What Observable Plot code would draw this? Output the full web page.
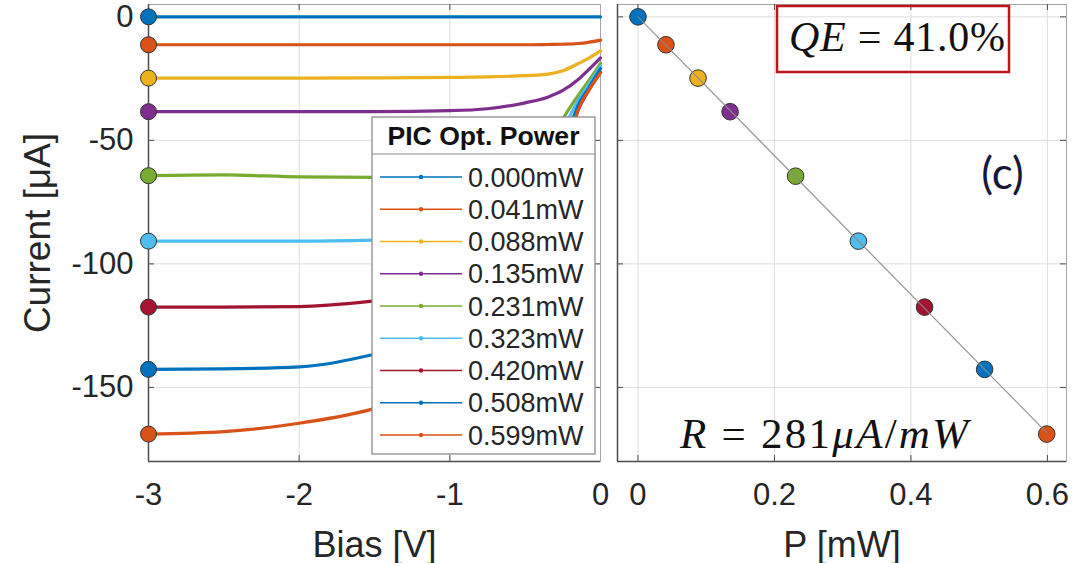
<!DOCTYPE html>
<html>
<head>
<meta charset="utf-8">
<script src="https://cdn.jsdelivr.net/npm/d3@7"></script>
<script src="https://cdn.jsdelivr.net/npm/@observablehq/plot@0.6"></script>
<style>
  html, body { margin: 0; padding: 0; background: #fff; }
  #chart { position: relative; width: 1078px; height: 563px; display: flex; background: #fff; }
  #chart svg { overflow: visible; }
</style>
</head>
<body>
<div id="chart"></div>
<script>
// ---------------- data ----------------
const powerLabels = ["0.000mW","0.041mW","0.088mW","0.135mW","0.231mW","0.323mW","0.420mW","0.508mW","0.599mW"];
const powerMW     = [0, 0.041, 0.088, 0.135, 0.231, 0.323, 0.420, 0.508, 0.599];
const seriesColors = ["#0072BD","#D95319","#EDB120","#7E2F8E","#77AC30","#4DBEEE","#A2142F","#0072BD","#D95319"];

// bias grid (V) and photocurrent curves (µA)
const biasV = [-3, -2.5, -2, -1.5, -1, -0.75, -0.5, -0.35, -0.25, -0.15, -0.08, 0];
const i000 = [0, 0, 0, 0, 0, 0, 0, 0, 0, 0, 0, 0];
const i041 = [-11.3, -11.3, -11.3, -11.3, -11.3, -11.3, -11.3, -11.2, -11.1, -10.8, -10.3, -9.4];
const i088 = [-24.8, -24.8, -24.8, -24.7, -24.5, -24.3, -23.8, -23.2, -21.8, -19.0, -16.8, -13.8];
const i135 = [-38.4, -38.4, -38.4, -38.4, -38.0, -37.2, -34.8, -32.5, -29.8, -25.5, -21.5, -16.6];
const i231 = [-64.3, -64.0, -64.8, -65.0, -64.6, -64.0, -61.5, -55.0, -41.5, -32.0, -26.0, -18.8];
const i323 = [-90.8, -90.8, -90.8, -90.4, -89.5, -88.0, -84.0, -70.0, -47.0, -34.0, -27.5, -20.0];
const i420 = [-117.5, -117.5, -117.3, -115.0, -111.0, -107.0, -100.0, -85.0, -60.0, -38.0, -30.0, -22.5];
const i508 = [-142.7, -142.5, -141.7, -136.6, -128.0, -121.0, -110.0, -88.0, -56.0, -36.0, -29.0, -21.0];
const i599 = [-168.9, -167.9, -164.5, -158.5, -146.0, -137.0, -122.0, -98.0, -66.0, -38.0, -30.0, -22.7];
const currentSeries = [i000, i041, i088, i135, i231, i323, i420, i508, i599];

// right panel: current at -3 V vs optical power, and linear fit (R = 281 µA/mW)
const pointCurrent = [0, -11.3, -24.8, -38.4, -64.5, -90.8, -117.5, -142.7, -168.9];
const fitP = [0, 0.599];
const fitI = [0, -168.3];

const xTicksLeft = [-3, -2, -1, 0];
const yTicks = [-150, -100, -50, 0];
const xTicksRight = [0, 0.2, 0.4, 0.6];
const xTickLabelsRight = ["0", "0.2", "0.4", "0.6"];

// ---------------- tables ----------------
const ivRows = [];
currentSeries.forEach((arr, s) => arr.forEach((v, k) => ivRows.push({
  v: biasV[k], i: v, s, color: seriesColors[s]
})));
const startRows = currentSeries.map((arr, s) => ({v: biasV[0], i: arr[0], color: seriesColors[s]}));
const pointRows = powerMW.map((p, s) => ({p, i: pointCurrent[s], color: seriesColors[s]}));
const fitRows = fitP.map((p, k) => ({p, i: fitI[k]}));

const SANS = "'Liberation Sans', Arial, Helvetica, sans-serif";
const SERIF = "'Liberation Serif', 'Times New Roman', serif";
const TXT = "#262626";
const GRID = "#dedede";
const FRAME = "#a6a6a6";
const AXIS = "#4d4d4d";

const H = 563, MT = 4, MB = 102;
const frameH = H - MT - MB;

// ---------------- left panel ----------------
const leftW = 605, lML = 148, lMR = 5;
const leftFrameW = leftW - lML - lMR;
const left = Plot.plot({
  width: leftW, height: H,
  marginLeft: lML, marginRight: lMR, marginTop: MT, marginBottom: MB,
  x: {domain: [-3, 0]},
  y: {domain: [-180, 5]},
  style: {fontFamily: SANS, fontSize: "31px", color: TXT, background: "transparent", overflow: "visible"},
  marks: [
    Plot.gridX([-2, -1], {stroke: GRID, strokeOpacity: 1}),
    Plot.gridY([-150, -100, -50], {stroke: GRID, strokeOpacity: 1}),
    Plot.frame({stroke: FRAME}),
    Plot.tickX([-2, -1], {x: d => d, insetTop: frameH - 6, stroke: AXIS}),
    Plot.tickX([-2, -1], {x: d => d, insetBottom: frameH - 6, stroke: AXIS}),
    Plot.tickY([-150, -100, -50], {y: d => d, insetRight: leftFrameW - 6, stroke: AXIS}),
    Plot.tickY([-150, -100, -50], {y: d => d, insetLeft: leftFrameW - 6, stroke: AXIS}),
    Plot.ruleX([-3], {stroke: AXIS, strokeWidth: 1.5}),
    Plot.ruleY([-180], {stroke: AXIS, strokeWidth: 1.5}),
    Plot.line(ivRows, {x: "v", y: "i", z: "s", stroke: "color", strokeWidth: 3.2, curve: "monotone-x"}),
    Plot.dot(startRows, {x: "v", y: "i", fill: "color", r: 8, stroke: "#333", strokeWidth: 1}),
    Plot.axisX(xTicksLeft, {tickSize: 0, tickPadding: 21, tickFormat: d => String(d), label: null, fill: TXT}),
    Plot.axisY(yTicks, {tickSize: 0, tickPadding: 15, tickFormat: d => String(d), label: null, fill: TXT}),
    Plot.text(["Bias [V]"], {frameAnchor: "bottom", dy: 84, fontSize: 36, lineAnchor: "middle", fill: TXT}),
    Plot.text(["Current [\u03BCA]"], {frameAnchor: "left", dx: -110, rotate: -90, fontSize: 37, lineAnchor: "middle", textAnchor: "middle", fill: TXT})
  ]
});

// ---------------- right panel ----------------
const rightW = 473, rML = 12, rMR = 12;
const rightFrameW = rightW - rML - rMR;
const right = Plot.plot({
  width: rightW, height: H,
  marginLeft: rML, marginRight: rMR, marginTop: MT, marginBottom: MB,
  x: {domain: [-0.03, 0.628]},
  y: {domain: [-180, 5], axis: null},
  style: {fontFamily: SANS, fontSize: "31px", color: TXT, background: "transparent", overflow: "visible"},
  marks: [
    Plot.gridX(xTicksRight, {stroke: GRID, strokeOpacity: 1}),
    Plot.gridY(yTicks, {stroke: GRID, strokeOpacity: 1}),
    Plot.frame({stroke: FRAME}),
    Plot.tickX(xTicksRight, {x: d => d, insetTop: frameH - 6, stroke: AXIS}),
    Plot.tickX(xTicksRight, {x: d => d, insetBottom: frameH - 6, stroke: AXIS}),
    Plot.tickY(yTicks, {y: d => d, insetRight: rightFrameW - 6, stroke: AXIS}),
    Plot.tickY(yTicks, {y: d => d, insetLeft: rightFrameW - 6, stroke: AXIS}),
    Plot.ruleX([-0.03], {stroke: AXIS, strokeWidth: 1.5}),
    Plot.ruleY([-180], {stroke: AXIS, strokeWidth: 1.5}),
    Plot.dot(pointRows, {x: "p", y: "i", fill: "color", r: 8.3, stroke: "#333", strokeWidth: 1}),
    Plot.line(fitRows, {x: "p", y: "i", stroke: "#8a8a8a", strokeWidth: 1.3, strokeOpacity: 0.85}),
    Plot.axisX(xTicksRight, {tickSize: 0, tickPadding: 21, tickFormat: (d, k) => xTickLabelsRight[k], label: null, fill: TXT}),
    Plot.text(["P [mW]"], {frameAnchor: "bottom", dy: 84, fontSize: 36, lineAnchor: "middle", fill: TXT}),
    Plot.text(["(c)"], {frameAnchor: "top-right", dx: -64, dy: 170, fontSize: 44, textAnchor: "middle", fontFamily: "Lato, 'Open Sans', sans-serif", lineAnchor: "middle", fill: "#15183a"})
  ]
});

const chart = document.getElementById("chart");
chart.appendChild(left);
chart.appendChild(right);

// ---------------- legend (left panel) ----------------
const ls = d3.select(left);
const lg = ls.append("g").attr("font-family", SANS).attr("text-anchor", "start");
const LX = 372, LY = 117, LW = 223, LH = 337;
lg.append("rect").attr("x", LX).attr("y", LY).attr("width", LW).attr("height", LH)
  .attr("fill", "white").attr("stroke", "#8c8c8c").attr("stroke-width", 1.3);
lg.append("line").attr("x1", LX).attr("x2", LX + LW).attr("y1", 154).attr("y2", 154)
  .attr("stroke", "#8c8c8c").attr("stroke-width", 1.2);
lg.append("text").attr("x", LX + LW / 2).attr("y", 145).attr("text-anchor", "middle")
  .attr("font-size", 25).attr("font-weight", "bold").attr("fill", "#111")
  .attr("textLength", 192).attr("lengthAdjust", "spacingAndGlyphs").text("PIC Opt. Power");
powerLabels.forEach((lab, k) => {
  const cy = 177 + k * 32.25;
  lg.append("line").attr("x1", 380).attr("x2", 462).attr("y1", cy).attr("y2", cy)
    .attr("stroke", seriesColors[k]).attr("stroke-width", 1.5);
  lg.append("circle").attr("cx", 421).attr("cy", cy).attr("r", 2.2).attr("fill", seriesColors[k]);
  lg.append("text").attr("x", 468).attr("y", cy + 9.5).attr("text-anchor", "start")
    .attr("font-size", 27).attr("fill", TXT).text(lab);
});

// ---------------- annotations (right panel) ----------------
const rs = d3.select(right);
const ag = rs.append("g").attr("text-anchor", "start");
ag.append("rect").attr("x", 172).attr("y", 6).attr("width", 232).attr("height", 66)
  .attr("fill", "none").attr("stroke", "#c0141c").attr("stroke-width", 2.5);
const qe = ag.append("text").attr("x", 184).attr("y", 51).attr("font-family", SERIF).attr("text-anchor", "start")
  .attr("font-size", 42).attr("fill", "#111").attr("textLength", 216).attr("lengthAdjust", "spacing");
qe.append("tspan").attr("font-style", "italic").text("QE");
qe.append("tspan").text(" = 41.0%");
const rt = ag.append("text").attr("x", 75).attr("y", 448).attr("font-family", SERIF).attr("text-anchor", "start")
  .attr("font-size", 43).attr("fill", "#111").attr("textLength", 288).attr("lengthAdjust", "spacing");
rt.append("tspan").attr("font-style", "italic").text("R");
rt.append("tspan").text(" = 281");
rt.append("tspan").attr("font-style", "italic").text("\u03BCA");
rt.append("tspan").text("/");
rt.append("tspan").attr("font-style", "italic").text("mW");
</script>
</body>
</html>
